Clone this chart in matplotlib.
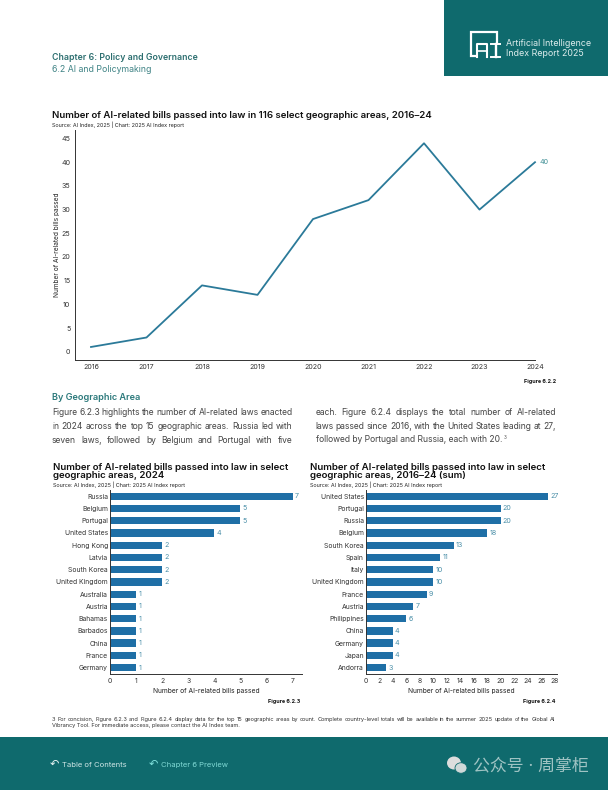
import matplotlib
matplotlib.use("Agg")
import matplotlib.pyplot as plt
from matplotlib.patches import Rectangle, Ellipse

plt.rcParams['font.family'] = ['Inter', 'Noto Sans CJK SC', 'DejaVu Sans']

# line chart
years = [2016, 2017, 2018, 2019, 2020, 2021, 2022, 2023, 2024]
bills = [1, 3, 14, 12, 28, 32, 44, 30, 40]

# bars left
areas_2024 = ["Russia", "Belgium", "Portugal", "United States", "Hong Kong", "Latvia", "South Korea",
              "United Kingdom", "Australia", "Austria", "Bahamas", "Barbados", "China", "France", "Germany"]
bills_2024 = [7, 5, 5, 4, 2, 2, 2, 2, 1, 1, 1, 1, 1, 1, 1]

# bars right
areas_sum = ["United States", "Portugal", "Russia", "Belgium", "South Korea", "Spain", "Italy",
             "United Kingdom", "France", "Austria", "Philippines", "China", "Germany", "Japan", "Andorra"]
bills_sum = [27, 20, 20, 18, 13, 11, 10, 10, 9, 7, 6, 4, 4, 4, 3]

TEAL = "#0f6a6d"
LINE = "#2b7a99"
BAR = "#1f6fa6"
W, H = 608, 790

fig = plt.figure(figsize=(W / 100, H / 100), dpi=100)

# page layer in pixel coordinates
page = fig.add_axes([0, 0, 1, 1])
page.set_xlim(0, W)
page.set_ylim(H, 0)
page.axis("off")


def axes_px(x0, y0, x1, y1):
    ax = fig.add_axes([x0 / W, 1 - y1 / H, (x1 - x0) / W, (y1 - y0) / H])
    ax.patch.set_alpha(0)
    for s in ["top", "right"]:
        ax.spines[s].set_visible(False)
    for s in ["left", "bottom"]:
        ax.spines[s].set_linewidth(0.7)
        ax.spines[s].set_color("#333333")
    ax.tick_params(length=0, labelsize=5.1, colors="#333333", pad=3)
    return ax


def txt(x, y, s, size=5, color="#111111", weight="normal", ha="left", **kw):
    return page.text(x, y, s, fontsize=size, color=color, fontweight=weight, ha=ha, va="center", **kw)


def justified(x0, x1, y, line, size, color="#444444"):
    # words spread out to fill the column, on one baseline
    words = line.split(" ")
    items = [txt(0, y + size * 0.5, w, size, color) for w in words]
    for t in items:
        t.set_va("baseline")
    rend = fig.canvas.get_renderer()
    widths = [t.get_window_extent(rend).width for t in items]
    gap = (x1 - x0 - sum(widths)) / (len(words) - 1)
    x = x0
    for t, w in zip(items, widths):
        t.set_x(x)
        x += w + gap


# header
page.add_patch(Rectangle((444, 0), 164, 76, color=TEAL, lw=0))
page.plot([475, 471, 471, 497, 497], [56, 56, 32, 32, 42], color="white", lw=1.6, solid_joinstyle="miter")
page.plot([477, 477, 487, 487], [57, 44, 44, 57], color="white", lw=1.5)
page.plot([477, 487], [51, 51], color="white", lw=1.2)
page.plot([491, 500], [44, 44], color="white", lw=1.4)
page.plot([491, 500], [56.5, 56.5], color="white", lw=1.4)
page.plot([495.5, 495.5], [44, 57], color="white", lw=1.7)
txt(506.5, 43, "Artificial Intelligence", 6.4, "#dcecec")
txt(506.5, 54, "Index Report 2025", 6.4, "#dcecec")
txt(52, 57, "Chapter 6: Policy and Governance", 6.3, "#2d6f70", "semibold")
txt(52, 70, "6.2 AI and Policymaking", 6.3, "#3f8385")

# line chart
txt(52, 115, "Number of AI-related bills passed into law in 116 select geographic areas, 2016–24", 6.93, "#111111", "semibold")
txt(52, 125, "Source: AI Index, 2025 | Chart: 2025 AI Index report", 3.9, "#222222")
ax = axes_px(74.5, 130, 535, 360)
ax.plot(years, bills, color=LINE, lw=1.3, clip_on=False)
ax.set_xlim(2016 - 16.5 / 55.5, 2024)
ax.set_ylim(-1.75, 46.8)
ax.set_xticks(years)
ax.set_yticks(range(0, 50, 5))
ax.annotate(str(bills[-1]), (years[-1], bills[-1]), xytext=(3, 0), textcoords="offset points",
            fontsize=5.1, color="#3f8f95", va="center", annotation_clip=False)
txt(57.5, 245, "Number of AI-related bills passed", 4.7, "#222222", ha="center", rotation=90)
txt(556, 382, "Figure 6.2.2", 3.9, "#111111", "bold", ha="right")

# text block
txt(52, 397.5, "By Geographic Area", 6.6, "#2d7a7c", "semibold")
justified(52, 292.5, 412, "Figure 6.2.3 highlights the number of AI-related laws enacted", 6.1)
justified(52, 292.5, 426, "in 2024 across the top 15 geographic areas. Russia led with", 6.1)
justified(52, 292.5, 440, "seven laws, followed by Belgium and Portugal with five", 6.1)
justified(315.5, 556, 412, "each. Figure 6.2.4 displays the total number of AI-related", 6.1)
justified(315.5, 556, 426, "laws passed since 2016, with the United States leading at 27,", 6.1)
txt(315.5, 440, "followed by Portugal and Russia, each with 20.", 6.1, "#444444")
txt(503.5, 437.5, "3", 3.2, "#444444")


def bar_chart(x0, x1, names, values, xmax, step, title, fig_label, label_right):
    title_x = x0 - 57 if x0 < 200 else x0 - 56
    txt(title_x, 467, title[0], 6.95, "#111111", "semibold")
    txt(title_x, 476, title[1], 6.95, "#111111", "semibold")
    txt(title_x, 485, "Source: AI Index, 2025 | Chart: 2025 AI Index report", 3.9, "#222222")
    a = axes_px(x0, 490, x1, 674)
    pos = list(range(len(names)))
    a.barh(pos, values, height=0.6, color=BAR)
    a.set_ylim(14.52, -0.51)
    a.set_xlim(0, xmax)
    a.set_yticks(pos, names)
    a.set_xticks(range(0, int(xmax) + 1, step))
    a.tick_params(axis="y", pad=1.5, labelsize=4.9)
    a.tick_params(axis="x", labelsize=4.9)
    for p, v in zip(pos, values):
        a.annotate(str(v), (v, p), xytext=(1.5, 0), textcoords="offset points", fontsize=5.1,
                   color="#4a8fa8", va="center", annotation_clip=False)
    a.set_xlabel("Number of AI-related bills passed", fontsize=4.8, color="#222222", labelpad=3)
    txt(label_right, 702, fig_label, 3.9, "#111111", "bold", ha="right")


bar_chart(110, 302, areas_2024, bills_2024, 7.36, 1,
          ("Number of AI-related bills passed into law in select", "geographic areas, 2024"),
          "Figure 6.2.3", 300)
bar_chart(366, 557, areas_sum, bills_sum, 28.34, 2,
          ("Number of AI-related bills passed into law in select", "geographic areas, 2016–24 (sum)"),
          "Figure 6.2.4", 555)

# footnote
justified(52, 555, 719, "3 For concision, Figure 6.2.3 and Figure 6.2.4 display data for the top 15 geographic areas by count. "
          "Complete country-level totals will be available in the summer 2025 update of the Global AI", 4.05, "#333333")
txt(52, 726, "Vibrancy Tool. For immediate access, please contact the AI Index team.", 4.05, "#333333")

# footer
page.add_patch(Rectangle((0, 737), W, 53, color=TEAL, lw=0))
txt(50, 763.5, "↶", 8, "#e8f4f4", family="DejaVu Sans")
txt(62, 765, "Table of Contents", 5.5, "#cfe6e6")
txt(149, 763.5, "↶", 8, "#7fe0dc", family="DejaVu Sans")
txt(161, 765, "Chapter 6 Preview", 5.5, "#7fd8d4")
page.add_patch(Ellipse((454, 763), 14, 13, color="#dddddd", lw=0))
page.add_patch(Ellipse((461, 768), 12, 10.5, color="#cfd8d8", ec=TEAL, lw=0.6))
txt(473, 765, "公众号 · 周掌柜", 12.2, "#9fc3c3")

fig.savefig("out.png", dpi=100)
